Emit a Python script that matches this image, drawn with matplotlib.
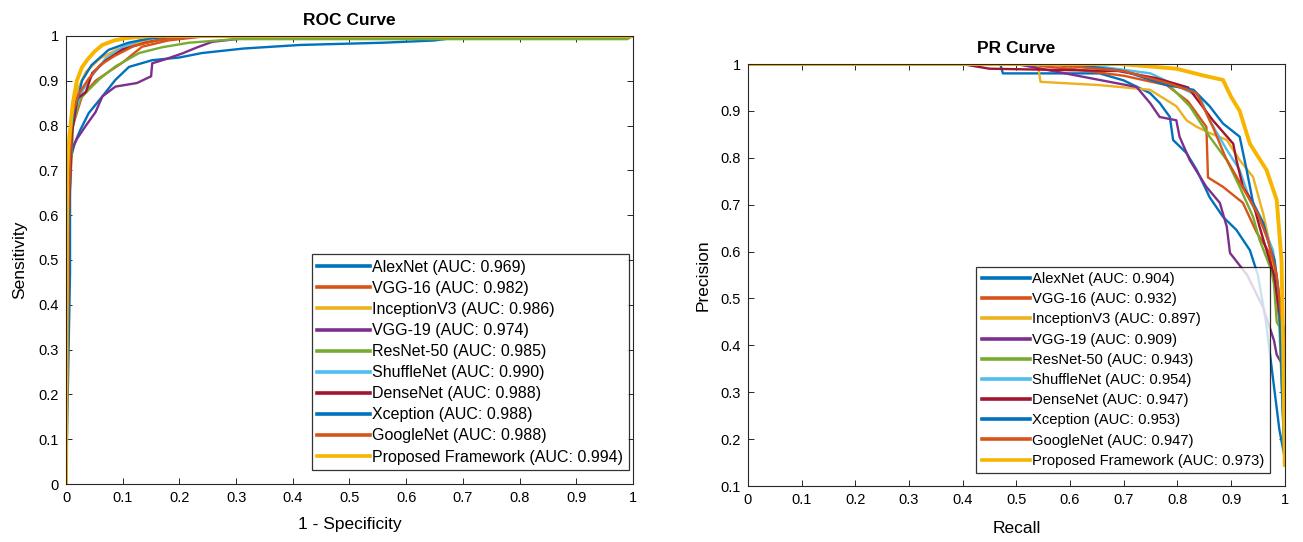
import matplotlib
matplotlib.use("Agg")
import matplotlib.pyplot as plt

plt.rcParams['font.family'] = ['Liberation Sans', 'DejaVu Sans']

models = ["AlexNet", "VGG-16", "InceptionV3", "VGG-19", "ResNet-50",
          "ShuffleNet", "DenseNet", "Xception", "GoogleNet", "Proposed Framework"]
colors = ["#0072BD", "#D95319", "#EDB120", "#7E2F8E", "#77AC30",
          "#4DBEEE", "#A2142F", "#0072BD", "#D95319", "#F7B500"]
roc_auc = ["0.969", "0.982", "0.986", "0.974", "0.985", "0.990", "0.988", "0.988", "0.988", "0.994"]
pr_auc = ["0.904", "0.932", "0.897", "0.909", "0.943", "0.954", "0.947", "0.953", "0.947", "0.973"]

# ROC curves: false positive rate (1 - specificity), true positive rate
roc_fpr = [
    [0, 0.007, 0.007, 0.015, 0.025, 0.04, 0.064, 0.087, 0.111, 0.152, 0.2, 0.24, 0.313, 0.413, 0.56, 0.65, 0.708, 1.0],
    [0, 0.005, 0.012, 0.028, 0.052, 0.075, 0.099, 0.134, 0.18, 0.25, 1.0],
    [0, 0.004, 0.01, 0.02, 0.035, 0.06, 0.09, 0.13, 0.18, 1.0],
    [0, 0.004, 0.008, 0.019, 0.035, 0.052, 0.064, 0.087, 0.125, 0.15, 0.152, 0.175, 0.205, 0.232, 0.258, 0.3, 0.35, 1.0],
    [0, 0.005, 0.012, 0.025, 0.04, 0.06, 0.087, 0.129, 0.17, 0.217, 0.3, 0.99, 1.0],
    [0, 0.004, 0.01, 0.02, 0.03, 0.045, 0.07, 0.1, 0.13, 0.17, 1.0],
    [0, 0.005, 0.01, 0.02, 0.035, 0.046, 0.07, 0.1, 0.14, 0.2, 1.0],
    [0, 0.004, 0.008, 0.015, 0.022, 0.028, 0.045, 0.075, 0.11, 0.15, 0.2, 1.0],
    [0, 0.004, 0.01, 0.022, 0.04, 0.06, 0.085, 0.12, 0.16, 0.22, 1.0],
    [0, 0.002, 0.004, 0.007, 0.012, 0.019, 0.028, 0.037, 0.05, 0.064, 0.085, 0.105, 0.15, 1.0],
]
roc_tpr = [
    [0, 0.47, 0.72, 0.76, 0.79, 0.828, 0.865, 0.902, 0.931, 0.946, 0.952, 0.962, 0.972, 0.98, 0.985, 0.99, 1.0, 1.0],
    [0, 0.6, 0.8, 0.865, 0.9, 0.92, 0.94, 0.976, 0.99, 1.0, 1.0],
    [0, 0.65, 0.82, 0.88, 0.92, 0.95, 0.97, 0.985, 1.0, 1.0],
    [0, 0.69, 0.74, 0.77, 0.8, 0.83, 0.865, 0.887, 0.895, 0.91, 0.939, 0.948, 0.961, 0.975, 0.987, 0.993, 1.0, 1.0],
    [0, 0.62, 0.8, 0.86, 0.88, 0.905, 0.932, 0.962, 0.975, 0.985, 0.993, 0.993, 1.0],
    [0, 0.6, 0.8, 0.85, 0.88, 0.91, 0.95, 0.975, 0.99, 1.0, 1.0],
    [0, 0.6, 0.78, 0.86, 0.875, 0.917, 0.945, 0.97, 0.985, 1.0, 1.0],
    [0, 0.55, 0.78, 0.84, 0.865, 0.9, 0.935, 0.969, 0.985, 0.995, 1.0, 1.0],
    [0, 0.62, 0.82, 0.87, 0.905, 0.935, 0.955, 0.978, 0.99, 1.0, 1.0],
    [0, 0.7, 0.75, 0.79, 0.85, 0.9, 0.93, 0.946, 0.965, 0.98, 0.99, 0.995, 1.0, 1.0],
]

# PR curves: recall, precision
pr_rec = [
    [0, 0.47, 0.475, 0.655, 0.7, 0.749, 0.767, 0.786, 0.792, 0.817, 0.836, 0.86, 0.885, 0.91, 0.935, 0.95, 0.965, 0.978, 0.99, 1.0],
    [0, 0.5, 0.6, 0.7, 0.78, 0.82, 0.854, 0.857, 0.885, 0.922, 0.948, 0.972, 0.985, 0.995, 1.0],
    [0, 0.54, 0.545, 0.655, 0.749, 0.798, 0.817, 0.836, 0.86, 0.892, 0.916, 0.941, 0.96, 0.975, 0.99, 1.0],
    [0, 0.5, 0.655, 0.724, 0.749, 0.767, 0.798, 0.804, 0.823, 0.854, 0.879, 0.892, 0.898, 0.93, 0.96, 0.98, 0.985, 0.995, 1.0],
    [0, 0.6, 0.7, 0.78, 0.823, 0.86, 0.892, 0.916, 0.941, 0.953, 0.975, 0.98, 0.985, 0.99, 1.0],
    [0, 0.62, 0.75, 0.842, 0.86, 0.892, 0.916, 0.935, 0.96, 0.978, 0.99, 1.0],
    [0, 0.398, 0.45, 0.69, 0.76, 0.82, 0.866, 0.904, 0.91, 0.922, 0.941, 0.953, 0.966, 0.98, 0.99, 0.995, 1.0],
    [0, 0.6, 0.7, 0.78, 0.83, 0.86, 0.885, 0.916, 0.929, 0.941, 0.96, 0.972, 0.981, 0.99, 0.995, 1.0],
    [0, 0.55, 0.7, 0.78, 0.836, 0.866, 0.89, 0.91, 0.93, 0.95, 0.97, 0.985, 0.995, 1.0, 1.0],
    [0, 0.693, 0.798, 0.85, 0.885, 0.9, 0.916, 0.935, 0.966, 0.985, 0.994, 0.997, 1.0],
]
pr_prec = [
    [1, 1, 0.98, 0.98, 0.965, 0.938, 0.917, 0.887, 0.838, 0.81, 0.774, 0.716, 0.674, 0.646, 0.603, 0.55, 0.45, 0.33, 0.22, 0.16],
    [1, 1, 0.99, 0.975, 0.955, 0.92, 0.866, 0.758, 0.738, 0.704, 0.64, 0.597, 0.5, 0.4, 0.15],
    [1, 1, 0.962, 0.955, 0.945, 0.91, 0.88, 0.866, 0.853, 0.838, 0.795, 0.759, 0.68, 0.6, 0.5, 0.15],
    [1, 1, 0.966, 0.951, 0.917, 0.887, 0.88, 0.845, 0.795, 0.738, 0.704, 0.653, 0.597, 0.55, 0.48, 0.41, 0.38, 0.36, 0.15],
    [1, 1, 0.985, 0.96, 0.91, 0.845, 0.795, 0.738, 0.674, 0.625, 0.56, 0.53, 0.45, 0.44, 0.15],
    [1, 1, 0.98, 0.93, 0.88, 0.817, 0.774, 0.71, 0.653, 0.603, 0.5, 0.15],
    [1, 1, 0.99, 0.985, 0.97, 0.95, 0.88, 0.83, 0.795, 0.738, 0.704, 0.653, 0.603, 0.55, 0.47, 0.43, 0.15],
    [1, 1, 0.985, 0.955, 0.945, 0.91, 0.873, 0.845, 0.774, 0.704, 0.661, 0.61, 0.582, 0.5, 0.3, 0.15],
    [1, 1, 0.985, 0.96, 0.938, 0.866, 0.8, 0.76, 0.72, 0.68, 0.62, 0.55, 0.45, 0.43, 0.15],
    [1, 1, 0.99, 0.975, 0.966, 0.93, 0.9, 0.83, 0.774, 0.71, 0.58, 0.4, 0.145],
]

ticks01 = [0, 0.1, 0.2, 0.3, 0.4, 0.5, 0.6, 0.7, 0.8, 0.9, 1]
ticks_pr_y = [0.1, 0.2, 0.3, 0.4, 0.5, 0.6, 0.7, 0.8, 0.9, 1]


def fmt(v):
    return "%g" % v


def style_axes(ax):
    for s in ax.spines.values():
        s.set_color("#262626")
        s.set_linewidth(0.8)
    ax.tick_params(direction="in", top=True, right=True, length=4, width=0.7,
                   labelsize=10.5, pad=5, colors="#262626", labelcolor="black")


def add_legend(ax, anchor, size, spacing):
    leg = ax.legend(loc="lower right", bbox_to_anchor=anchor, borderaxespad=0,
                    fontsize=size, frameon=True, fancybox=False, edgecolor="black",
                    handlelength=3.3, handletextpad=0.15, labelspacing=spacing,
                    borderpad=0.35)
    leg.get_frame().set_linewidth(0.9)
    for h in leg.get_lines():
        h.set_linewidth(2.6)
    return leg


fig = plt.figure(figsize=(13.03, 5.42), dpi=100)

ax1 = fig.add_axes([0.0507, 0.107, 0.435, 0.8266])
for i in range(len(models)):
    lw = 2.8 if i == 9 else 1.7
    ax1.plot(roc_fpr[i], roc_tpr[i], color=colors[i], lw=lw,
             label="%s (AUC: %s)" % (models[i], roc_auc[i]))
ax1.set_xlim(0, 1)
ax1.set_ylim(0, 1)
ax1.set_xticks(ticks01)
ax1.set_xticklabels([fmt(v) for v in ticks01])
ax1.set_yticks(ticks01)
ax1.set_yticklabels([fmt(v) for v in ticks01])
style_axes(ax1)
ax1.set_title("ROC Curve", fontsize=12.5, fontweight="bold", pad=8)
ax1.set_xlabel("1 - Specificity", fontsize=12.5, labelpad=9)
ax1.set_ylabel("Sensitivity", fontsize=12.5, labelpad=8)
add_legend(ax1, (0.993, 0.031), 11.5, 0.38)

ax2 = fig.add_axes([0.574, 0.1033, 0.412, 0.7786])
for i in range(len(models)):
    lw = 2.8 if i == 9 else 1.7
    ax2.plot(pr_rec[i], pr_prec[i], color=colors[i], lw=lw,
             label="%s (AUC: %s)" % (models[i], pr_auc[i]))
ax2.set_xlim(0, 1)
ax2.set_ylim(0.1, 1)
ax2.set_xticks(ticks01)
ax2.set_xticklabels([fmt(v) for v in ticks01])
ax2.set_yticks(ticks_pr_y)
ax2.set_yticklabels([fmt(v) for v in ticks_pr_y])
style_axes(ax2)
ax2.set_title("PR Curve", fontsize=12.5, fontweight="bold", pad=8)
ax2.set_xlabel("Recall", fontsize=12.5, labelpad=10)
ax2.set_ylabel("Precision", fontsize=12.5, labelpad=7)
add_legend(ax2, (0.972, 0.031), 10.6, 0.42)

fig.savefig("out.png", dpi=100)
